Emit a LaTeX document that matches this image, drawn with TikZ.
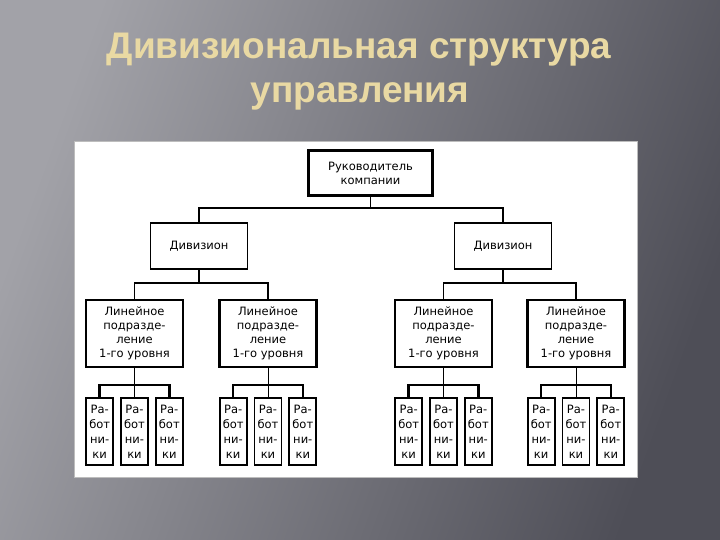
\documentclass[tikz,border=0pt]{standalone}
\usepackage{fontspec}
\setmainfont{DejaVu Sans}
\newfontfamily\titlefont{Liberation Sans}
\usetikzlibrary{positioning}
\definecolor{bglight}{HTML}{A2A2A8}
\definecolor{bgdark}{HTML}{4E4E57}
\definecolor{titlecolor}{HTML}{E9D9A3}
\definecolor{paneledge}{HTML}{BDBDBD}

\begin{document}
\begin{tikzpicture}[x=1pt, y=-1pt,
    box/.style={draw, inner sep=0pt, align=center, font=\fontsize{11.5}{14}\selectfont},
    headbox/.style={box, line width=2.5pt, minimum width=124pt, minimum height=45pt},
    divbox/.style={box, line width=1.2pt, minimum width=97pt, minimum height=46pt},
    unitbox/.style={box, line width=2.2pt, minimum width=97pt, minimum height=67pt},
    workbox/.style={box, line width=1.8pt, minimum width=27pt, minimum height=67pt,
                    font=\fontsize{11.5}{15}\selectfont},
    thinline/.style={line width=1pt},
    midline/.style={line width=1.3pt},
    busline/.style={line width=2.5pt},
    title/.style={font=\titlefont\bfseries\fontsize{37}{44}\selectfont, text=titlecolor, anchor=base}
]
    \useasboundingbox (0,0) rectangle (720,540);
    % --- background + title ---
    \shade[left color=bglight, right color=bgdark, shading angle=70] (0,0) rectangle (720,540);
    \node[title] (title1) at (359,59) {Дивизиональная структура};
    \node[title] (title2) at (360,103) {управления};
    \filldraw[fill=white, draw=paneledge] (74,141) rectangle (637,477);

    % --- head and divisions ---
    \node[headbox] (head) at (370.5,173) {Руководитель\\компании};
    \node[divbox] (div1) at (199,246) {Дивизион};
    \node[divbox] (div2) at (503,246) {Дивизион};

    % --- linear units, 1st level ---
    \node[unitbox] (lin1) at (134.5,333.5) {Линейное\\подразде-\\ление\\1-го уровня};
    \node[unitbox] (lin2) at (268,333.5) {Линейное\\подразде-\\ление\\1-го уровня};
    \node[unitbox] (lin3) at (443.5,333.5) {Линейное\\подразде-\\ление\\1-го уровня};
    \node[unitbox] (lin4) at (576,333.5) {Линейное\\подразде-\\ление\\1-го уровня};

    % --- workers ---
    \foreach \i in {1,...,4} {
        \node[workbox, below=29pt of lin\i] (w\i-b) {Ра-\\бот\\ни-\\ки};
        \node[workbox, left=6pt of w\i-b] (w\i-a) {Ра-\\бот\\ни-\\ки};
        \node[workbox, right=6pt of w\i-b] (w\i-c) {Ра-\\бот\\ни-\\ки};
    }

    % --- connectors ---
    \coordinate (bus0) at (head.south |- 0,208);
    \draw[thinline] (head.south) -- (bus0);
    \draw[busline] (div1.north) |- (bus0) -| (div2.north);
    \foreach \d/\a/\b in {1/1/2, 2/3/4} {
        \coordinate (bus\d) at (div\d.south |- 0,283);
        \draw[midline] (div\d.south) -- (bus\d);
        \draw[midline] (lin\a.north) |- (bus\d) -| (lin\b.north);
    }
    \foreach \i in {1,...,4} {
        \coordinate (wb\i) at (lin\i.south |- 0,385);
        \draw[thinline] (lin\i.south) -- (w\i-b.north);
        \draw[busline] (w\i-a.north) |- (wb\i) -| (w\i-c.north);
    }
\end{tikzpicture}
\end{document}
